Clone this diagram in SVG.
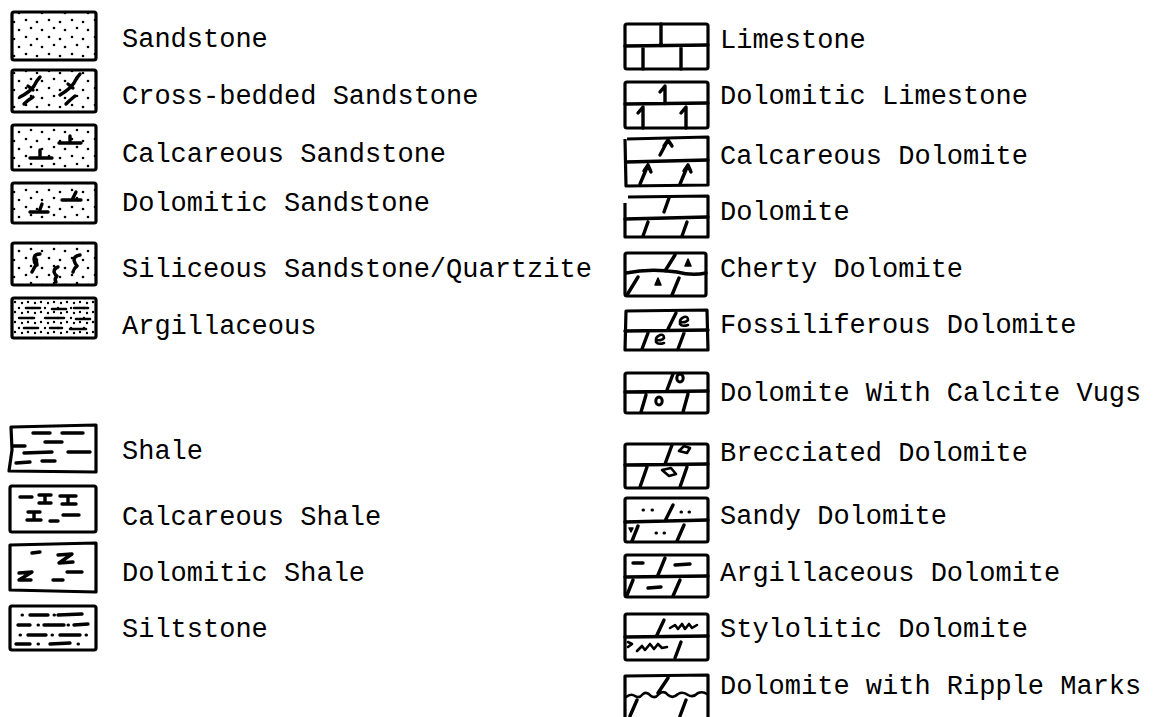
<svg xmlns="http://www.w3.org/2000/svg" width="1165" height="717" viewBox="0 0 1165 717">
<style>
.bx{fill:none;stroke:#000;stroke-width:3.2;stroke-linejoin:round}
.ln{fill:none;stroke:#000;stroke-width:2.6;stroke-linecap:round;stroke-linejoin:round}
.th{fill:none;stroke:#000;stroke-width:3.4;stroke-linecap:round;stroke-linejoin:round}
.fl{fill:#000;stroke:#000;stroke-width:1.5;stroke-linejoin:round}
.dt{fill:none;stroke:#000;stroke-width:3;stroke-linecap:round}
.lbl{font-family:"Liberation Mono","DejaVu Sans Mono",monospace;font-size:27px;fill:#000}
</style>
<defs>
<pattern id="dots" width="23" height="17" patternUnits="userSpaceOnUse">
<circle cx="3" cy="3" r="1.3"/><circle cx="14" cy="5" r="1.3"/><circle cx="8" cy="11" r="1.3"/><circle cx="19" cy="13" r="1.3"/>
</pattern>
<pattern id="dots2" width="13" height="10" patternUnits="userSpaceOnUse">
<circle cx="2" cy="2" r="1.2"/><circle cx="9" cy="3" r="1.2"/><circle cx="6" cy="8" r="1.2"/>
</pattern>
</defs>
<rect width="1165" height="717" fill="#fff"/>

<!-- left column -->
<g id="sandstone">
<rect class="bx" x="12" y="12" width="84" height="48" rx="2" style="fill:url(#dots)"/>
<text class="lbl" x="122" y="47">Sandstone</text>
</g>
<g id="cross-bedded-sandstone">
<rect class="bx" x="12" y="70" width="84" height="42" rx="2" style="fill:url(#dots)"/>
<path class="th" d="M20 97 Q30 92 34 86 Q37 80 40 77 M28 86 L33 90 M24 104 Q28 100 33 97"/>
<path class="th" d="M60 95 Q70 89 74 83 Q77 77 80 74 M68 84 L73 88 M66 104 Q70 100 75 96"/>
<text class="lbl" x="122" y="104">Cross-bedded Sandstone</text>
</g>
<g id="calcareous-sandstone">
<rect class="bx" x="12" y="125" width="84" height="45" rx="2" style="fill:url(#dots)"/>
<path class="th" d="M59 143 L81 143 M70 143 L70 136 M30 158 L52 158 M40 158 L40 150"/>
<text class="lbl" x="122" y="162">Calcareous Sandstone</text>
</g>
<g id="dolomitic-sandstone">
<rect class="bx" x="12" y="183" width="84" height="40" rx="2" style="fill:url(#dots)"/>
<path class="th" d="M62 200 L81 200 M72 200 L76 192 M30 212 L48 212 M39 212 L42 204"/>
<text class="lbl" x="122" y="211">Dolomitic Sandstone</text>
</g>
<g id="siliceous-sandstone">
<rect class="bx" x="12" y="243" width="84" height="42" rx="2" style="fill:url(#dots)"/>
<path class="th" d="M40 254 Q34 254 34 259 Q34 263 36 265 Q34 268 32 272 M36 259 L37 265"/>
<path class="th" d="M58 267 Q54 268 54 272 Q55 275 57 276 Q54 279 56 282"/>
<path class="th" d="M80 255 Q74 256 74 260 Q75 264 77 266 Q74 268 73 272"/>
<text class="lbl" x="122" y="277">Siliceous Sandstone/Quartzite</text>
</g>
<g id="argillaceous">
<rect class="bx" x="12" y="298" width="84" height="40" rx="2" style="fill:url(#dots2)"/>
<path class="ln" d="M26 308 L40 308 M52 309 L66 309 M74 308 L88 308 M20 318 L34 318 M46 318 L64 318 M76 319 L90 319 M24 328 L38 328 M50 328 L62 328 M70 329 L86 329"/>
<text class="lbl" x="122" y="334">Argillaceous</text>
</g>
<g id="shale">
<path class="bx" d="M12 427 L96 425 L96 472 L9 471 L12 450 L11 427 Z"/>
<path class="th" d="M33 433 L50 433 M62 433 L83 433 M45 442 L62 442 M13 446 L25 446 M24 453 L52 452 M68 452 L90 452 M16 463 L30 462 M42 461 L55 461"/>
<text class="lbl" x="122" y="459">Shale</text>
</g>
<g id="calcareous-shale">
<rect class="bx" x="10" y="486" width="86" height="46" rx="2"/>
<path class="th" d="M20 497 L32 497 M39 495 L51 495 M45 495 L45 503 M39 503 L51 503 M60 496 L76 496 M68 496 L68 503 M62 504 L76 504 M28 512 L40 512 M34 512 L34 520 M27 520 L41 520 M50 521 L58 521 M63 515 L79 515"/>
<text class="lbl" x="122" y="525">Calcareous Shale</text>
</g>
<g id="dolomitic-shale">
<path class="bx" d="M10 545 L96 543 L96 592 L10 590 Z"/>
<path class="th" d="M32 553 L40 552 M58 555 L72 554 L59 563 L73 562 M67 572 L82 572 M19 573 L32 572 L19 580 L31 580 M53 580 L63 580"/>
<text class="lbl" x="122" y="581">Dolomitic Shale</text>
</g>
<g id="siltstone">
<rect class="bx" x="10" y="606" width="86" height="44" rx="2"/>
<path class="th" d="M30 615 L48 615 M58 615 L82 614 M18 625 L30 625 M44 625 L64 625 M74 625 L88 624 M28 635 L46 635 M60 635 L80 635 M16 644 L30 644 M50 644 L70 643"/>
<path class="dt" d="M22 615 h0.5 M54 615 h0.5 M38 625 h0.5 M68 625 h0.5 M20 635 h0.5 M52 635 h0.5 M86 635 h0.5 M38 644 h0.5 M78 644 h0.5"/>
<text class="lbl" x="122" y="637">Siltstone</text>
</g>

<!-- right column -->
<g id="limestone">
<rect class="bx" x="625" y="24" width="83" height="45" rx="2"/>
<path class="th" d="M625 46 L708 45 M661 24 L661 46 M643 46 L643 69 M681 46 L681 69"/>
<text class="lbl" x="720" y="48">Limestone</text>
</g>
<g id="dolomitic-limestone">
<rect class="bx" x="625" y="82" width="83" height="46" rx="2"/>
<path class="th" d="M625 104 L708 103 M665 104 L665 86 L660 92 M643 128 L643 107 L638 113 M686 128 L686 107 L681 113"/>
<text class="lbl" x="720" y="104">Dolomitic Limestone</text>
</g>
<g id="calcareous-dolomite">
<path class="bx" d="M627 139 L708 137 L708 185 L626 186 L625 139"/>
<path class="th" d="M626 162 L708 160 M660 155 L668 140 M664 146 L668 140 L672 146 M640 184 L648 165 M644 171 L648 165 L651 172 M680 184 L688 165 M684 171 L688 165 L691 172"/>
<text class="lbl" x="720" y="164">Calcareous Dolomite</text>
</g>
<g id="dolomite">
<path class="bx" d="M628 197 L708 196 L708 237 L625 237 L625 203"/>
<path class="th" d="M625 219 L708 217 M664 212 L669 198 M643 236 L648 222 M682 236 L687 222"/>
<text class="lbl" x="720" y="220">Dolomite</text>
</g>
<g id="cherty-dolomite">
<rect class="bx" x="625" y="253" width="81" height="43" rx="2"/>
<path class="th" d="M626 273 Q650 268 677 272 Q692 276 706 273 M665 271 L675 255 M627 295 L638 277 M672 295 L679 278"/>
<path class="fl" d="M685 266 L688 259 L691 266 Z M655 285 L658 278 L661 285 Z"/>
<text class="lbl" x="720" y="277">Cherty Dolomite</text>
</g>
<g id="fossiliferous-dolomite">
<path class="bx" d="M626 311 L707 310 L708 350 L625 350 Z"/>
<path class="th" d="M625 331 L708 330 M668 329 L676 313 M642 349 L648 333 M678 349 L684 333"/>
<path class="ln" d="M680 322 Q686 323 688 320 Q688 316 684 317 Q679 319 680 324 Q682 327 688 325 M656 340 Q662 341 664 338 Q664 334 660 335 Q655 337 656 342 Q658 345 664 343"/>
<text class="lbl" x="720" y="333">Fossiliferous Dolomite</text>
</g>
<g id="dolomite-with-calcite-vugs">
<rect class="bx" x="625" y="373" width="83" height="40" rx="2"/>
<path class="th" d="M625 392 L708 391 M667 390 L673 374 M641 412 L646 395 M683 412 L688 394"/>
<ellipse class="bx" style="stroke-width:3" cx="680" cy="378" rx="3.2" ry="4"/>
<ellipse class="bx" style="stroke-width:3" cx="659" cy="401" rx="3.2" ry="4"/>
<text class="lbl" x="720" y="401">Dolomite With Calcite Vugs</text>
</g>
<g id="brecciated-dolomite">
<rect class="bx" x="625" y="444" width="83" height="44" rx="2"/>
<path class="th" d="M625 465 L708 464 M665 464 L672 445 M640 487 L647 467 M680 487 L687 467"/>
<path class="ln" d="M679 451 L684 446 L690 448 L687 453 Z M662 470 L671 468 L676 474 L669 476 Z"/>
<text class="lbl" x="720" y="461">Brecciated Dolomite</text>
</g>
<g id="sandy-dolomite">
<rect class="bx" x="625" y="498" width="83" height="44" rx="2"/>
<path class="th" d="M625 522 L708 520 M665 521 L673 505 M632 541 L638 526 M677 541 L684 525"/>
<path class="dt" d="M643 510 h0.5 M652 510 h0.5 M681 512 h0.5 M689 512 h0.5 M656 533 h0.5 M664 533 h0.5"/>
<path class="fl" d="M629 528 L633 528 L631 532 Z"/>
<text class="lbl" x="720" y="524">Sandy Dolomite</text>
</g>
<g id="argillaceous-dolomite">
<rect class="bx" x="625" y="555" width="83" height="42" rx="2"/>
<path class="th" d="M625 577 L708 576 M658 575 L665 558 M627 595 L633 580 M673 596 L680 580 M633 563 L643 563 M675 565 L690 564 M648 588 L661 587"/>
<text class="lbl" x="720" y="581">Argillaceous Dolomite</text>
</g>
<g id="stylolitic-dolomite">
<rect class="bx" x="625" y="614" width="83" height="46" rx="2"/>
<path class="th" d="M625 637 L708 636 M657 635 L664 620 M675 658 L681 642"/>
<path class="ln" d="M670 628 L675 625 L678 629 L682 624 L685 629 L689 624 L692 628 L697 625 M637 651 L642 646 L645 650 L650 644 L654 649 L658 644 L662 648 L667 647 M628 642 L632 644 L628 647"/>
<text class="lbl" x="720" y="637">Stylolitic Dolomite</text>
</g>
<g id="dolomite-with-ripple-marks">
<path class="bx" d="M625 717 L625 676 L708 675 L708 717"/>
<path class="th" d="M658 693 L668 678 M630 716 L637 700 M680 716 L686 700"/>
<path class="ln" d="M626 697 Q631 693 635 696 Q639 699 643 694 Q647 691 651 696 Q655 699 659 694 Q664 690 668 695 Q673 699 678 694 Q683 691 688 695 Q693 698 698 693 Q703 691 707 694"/>
<text class="lbl" x="720" y="694">Dolomite with Ripple Marks</text>
</g>
</svg>
